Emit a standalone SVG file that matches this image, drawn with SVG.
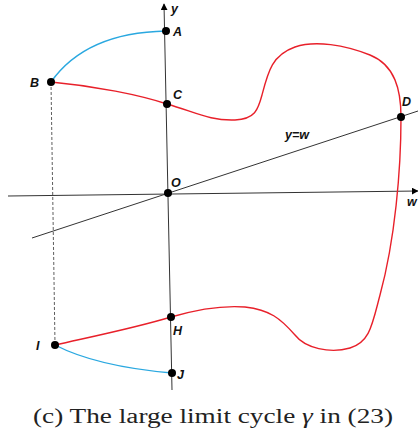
<svg xmlns="http://www.w3.org/2000/svg" width="418" height="439" viewBox="0 0 418 439">
<style>
.lbl{font-family:"Liberation Sans",Arial,sans-serif;font-style:italic;font-weight:bold;font-size:12.5px;fill:#111}
.dot{fill:#000}
.red{fill:none;stroke:#e8202a;stroke-width:1.4}
.blue{fill:none;stroke:#2aa8e0;stroke-width:1.4}
.axis{fill:none;stroke:#333;stroke-width:1}
</style>
<defs>
<marker id="arr" viewBox="0 0 10 10" refX="9" refY="5" markerWidth="7" markerHeight="7" markerUnits="userSpaceOnUse" orient="auto">
<path d="M0,0 L10,5 L0,10 z" fill="#000"/>
</marker>
</defs>
<g id="connectors">
<line class="axis" x1="8" y1="196" x2="418" y2="191" marker-end="url(#arr)"/>
<line class="axis" x1="172" y1="390" x2="164" y2="4" marker-end="url(#arr)"/>
<line class="axis" x1="32" y1="238" x2="418" y2="111" stroke="#000"/>
<line x1="51" y1="82" x2="55" y2="345" stroke="#333" stroke-width="0.8" stroke-dasharray="3,2"/>
<path class="blue" d="M166,31 C115,32 75,48 51,82"/>
<path class="blue" d="M55,345 C80,358 115,368 172,373"/>
<path class="red" d="M51,82 C95,86 140,95 167,104 C195,112 210,121 235,120 C255,119 258,110 262,95 C268,72 272,55 295,47 C315,40 345,45 370,55 C395,65 401,90 401,117 C401,170 395,240 380,295 C372,325 370,342 350,348 C330,354 305,348 295,335 C280,318 270,310 245,307 C220,305 195,310 171,317 C135,328 90,337 55,345"/>
</g>
<g id="A"><circle class="dot" cx="166" cy="31" r="4"/><text class="lbl" x="173" y="36">A</text></g>
<g id="B"><circle class="dot" cx="51" cy="82" r="4"/><text class="lbl" x="30" y="87">B</text></g>
<g id="C"><circle class="dot" cx="167" cy="104" r="4"/><text class="lbl" x="173" y="99">C</text></g>
<g id="O"><circle class="dot" cx="168" cy="193" r="4"/><text class="lbl" x="171" y="187">O</text></g>
<g id="D"><circle class="dot" cx="401" cy="117" r="4"/><text class="lbl" x="402" y="106">D</text></g>
<g id="H"><circle class="dot" cx="171" cy="317" r="4"/><text class="lbl" x="173" y="335">H</text></g>
<g id="I"><circle class="dot" cx="55" cy="345" r="4"/><text class="lbl" x="36" y="350">I</text></g>
<g id="J"><circle class="dot" cx="172" cy="373" r="4"/><text class="lbl" x="177" y="379">J</text></g>
<g id="labels">
<text class="lbl" x="171" y="13">y</text>
<text class="lbl" x="407" y="206">w</text>
<text class="lbl" x="285" y="139">y=w</text>
</g>
<text x="33" y="423" font-family="'Liberation Serif','Times New Roman','DejaVu Serif',serif" font-size="20" fill="#222" textLength="360" lengthAdjust="spacingAndGlyphs">(c) The large limit cycle <tspan font-style="italic">γ</tspan> in (23)</text>
</svg>
